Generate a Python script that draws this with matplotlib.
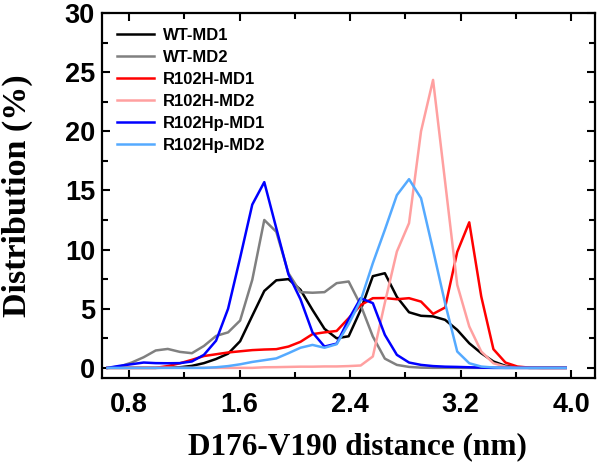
import numpy as np
import matplotlib
matplotlib.use("Agg")
import matplotlib.pyplot as plt
from matplotlib.ticker import MultipleLocator

# bin centres of the distance histogram (nm)
dist = np.round(0.644 + 0.0873 * np.arange(39), 3)

wt_md1 = [0, 0, 0, 0, 0, 0.02, 0.05, 0.17, 0.4, 0.75, 1.2, 2.25, 4.4, 6.5, 7.4, 7.5,
          6.6, 4.9, 3.3, 2.5, 2.67, 4.9, 7.75, 8.0, 6.0, 4.7, 4.4, 4.35, 4.06, 3.21,
          2.08, 1.24, 0.54, 0.17, 0.05, 0, 0, 0, 0]
wt_md2 = [0, 0.11, 0.45, 0.9, 1.47, 1.6, 1.35, 1.24, 1.85, 2.7, 3.0, 4.0, 7.44, 12.5,
          11.5, 8.0, 6.4, 6.35, 6.4, 7.16, 7.3, 5.3, 2.65, 0.78, 0.25, 0.08, 0.02, 0,
          0, 0, 0, 0, 0, 0, 0, 0, 0, 0, 0]
r102h_md1 = [0, 0, 0, 0, 0, 0.15, 0.39, 0.68, 1.0, 1.15, 1.3, 1.4, 1.5, 1.55, 1.58,
             1.8, 2.2, 2.85, 3.0, 3.12, 4.2, 5.3, 5.89, 5.9, 5.8, 5.89, 5.6, 4.56, 5.1,
             9.8, 12.3, 6.03, 1.58, 0.45, 0.11, 0.02, 0, 0, 0]
r102h_md2 = [0, 0, 0, 0, 0, 0, 0, 0, 0, 0, 0, 0, 0, 0.05, 0.06, 0.08, 0.1, 0.1, 0.12,
             0.12, 0.15, 0.2, 0.96, 5.5, 9.83, 12.23, 20.0, 24.34, 15.75, 7.02, 3.5,
             1.38, 0.39, 0.11, 0, 0, 0, 0, 0]
r102hp_md1 = [0, 0.17, 0.31, 0.45, 0.4, 0.39, 0.4, 0.54, 1.1, 2.3, 5.0, 9.3, 13.8, 15.7,
              11.8, 7.9, 5.8, 3.0, 1.8, 2.05, 4.1, 5.89, 5.47, 2.79, 1.1, 0.45, 0.25,
              0.15, 0.1, 0.08, 0.05, 0.02, 0, 0, 0, 0, 0, 0, 0]
r102hp_md2 = [0, 0, 0, 0, 0, 0, 0, 0, 0, 0.05, 0.15, 0.3, 0.5, 0.65, 0.8, 1.24, 1.7,
              1.94, 1.7, 2.0, 3.7, 5.7, 8.85, 11.67, 14.6, 15.95, 14.34, 9.97, 5.47,
              1.38, 0.39, 0.11, 0.03, 0, 0, 0, 0, 0, 0]

series = [
    ("WT-MD1", wt_md1, "black"),
    ("WT-MD2", wt_md2, "#808080"),
    ("R102H-MD1", r102h_md1, "#ff0000"),
    ("R102H-MD2", r102h_md2, "#ffa0a0"),
    ("R102Hp-MD1", r102hp_md1, "#0000ff"),
    ("R102Hp-MD2", r102hp_md2, "#55aaff"),
]

fig = plt.figure(figsize=(6, 4.62), dpi=100)
ax = fig.add_axes([0.17, 0.182, 0.822, 0.79])

for name, vals, col in series:
    ax.plot(dist, vals, color=col, lw=1.8, label=name)

ax.set_xlim(0.604, 4.175)
ax.set_ylim(-0.85, 30)
ax.xaxis.set_major_locator(MultipleLocator(0.8))
ax.xaxis.set_minor_locator(MultipleLocator(0.4))
ax.yaxis.set_major_locator(MultipleLocator(5))
ax.yaxis.set_minor_locator(MultipleLocator(2.5))
ax.set_xticks([0.8, 1.6, 2.4, 3.2, 4.0])
ax.set_xticklabels(["0.8", "1.6", "2.4", "3.2", "4.0"])

ax.tick_params(which="both", direction="in", top=True, right=True, width=1.5)
ax.tick_params(which="major", length=6)
ax.tick_params(which="minor", length=4)
ax.tick_params(axis="x", pad=10)
ax.tick_params(axis="y", pad=5)
for lab in ax.get_xticklabels() + ax.get_yticklabels():
    lab.set_fontfamily("Liberation Sans")
    lab.set_fontweight("bold")
    lab.set_fontsize(19.5)
for sp in ax.spines.values():
    sp.set_linewidth(1.6)

ax.set_xlabel("D176-V190 distance (nm)", fontfamily="Liberation Serif",
              fontweight="bold", fontsize=22.5)
ax.xaxis.set_label_coords(0.518, -0.148)
ax.set_ylabel("Distribution (%)", fontfamily="Liberation Serif",
              fontweight="bold", fontsize=24.5)
ax.yaxis.set_label_coords(-0.14, 0.5)

leg = ax.legend(loc="upper left", frameon=False,
                prop={"family": "Liberation Sans", "weight": "bold", "size": 12},
                handlelength=2.2, handletextpad=0.55, labelspacing=0.42,
                borderaxespad=0.5, bbox_to_anchor=(0.0, 1.0))

fig.savefig("out.png", dpi=100)
